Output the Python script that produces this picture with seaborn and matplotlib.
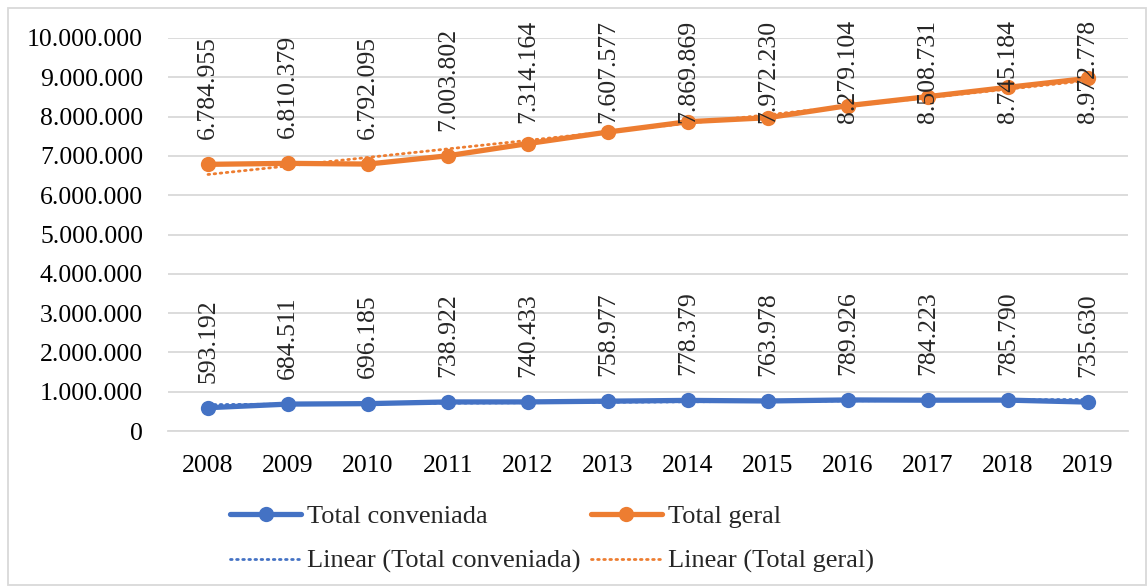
import numpy as np
import pandas as pd
import matplotlib
matplotlib.use("Agg")
import matplotlib.pyplot as plt
import seaborn as sns
from matplotlib.lines import Line2D
from matplotlib.patches import Rectangle

# data
years = [2008, 2009, 2010, 2011, 2012, 2013, 2014, 2015, 2016, 2017, 2018, 2019]
total_conveniada = [593192, 684511, 696185, 738922, 740433, 758977,
                    778379, 763978, 789926, 784223, 785790, 735630]
total_geral = [6784955, 6810379, 6792095, 7003802, 7314164, 7607577,
               7869869, 7972230, 8279104, 8508731, 8745184, 8972778]

blue = "#4472C4"
orange = "#ED7D31"
grid_col = "#D9D9D9"

sns.set_theme(style="white")
plt.rcParams['font.family'] = ['Liberation Serif', 'DejaVu Serif']
plt.rcParams['font.size'] = 18.5

df = pd.DataFrame({"ano": years, "conv": total_conveniada, "geral": total_geral})

fig = plt.figure(figsize=(11.48, 5.87), dpi=100)
ax = fig.add_axes([168 / 1148, 1 - 431 / 587, 960 / 1148, 393 / 587])

# trend lines first (under the series)
dots = (0, (0.6, 1.6))
for col, c in [("conv", blue), ("geral", orange)]:
    sns.regplot(data=df, x="ano", y=col, ax=ax, scatter=False, ci=None,
                color=c, line_kws=dict(linestyle=dots, lw=2.0,
                                       dash_capstyle="round", zorder=2))

sns.lineplot(data=df, x="ano", y="conv", ax=ax, color=blue, lw=3.8,
             marker="o", markersize=11, markeredgewidth=0, zorder=3)
sns.lineplot(data=df, x="ano", y="geral", ax=ax, color=orange, lw=3.8,
             marker="o", markersize=11, markeredgewidth=0, zorder=3)

ax.set_xlim(2007.5, 2019.5)
ax.set_ylim(0, 10_000_000)
ax.set_yticks(np.arange(0, 10_000_001, 1_000_000))
ax.set_yticklabels(["0"] + [f"{v:,}".replace(",", ".") for v in range(1_000_000, 10_000_001, 1_000_000)])
ax.set_xticks(years)
ax.set_xticklabels([str(y) for y in years])
ax.tick_params(axis="both", length=0, labelsize=18.5, colors="black")
ax.tick_params(axis="y", pad=18)
ax.tick_params(axis="x", pad=17)
ax.set_xlabel("")
ax.set_ylabel("")
ax.yaxis.grid(True, color=grid_col, lw=1.3)
ax.xaxis.grid(False)
for s in ["left", "right", "top"]:
    ax.spines[s].set_visible(False)
ax.spines["bottom"].set_color(grid_col)
ax.spines["bottom"].set_linewidth(1.3)

# value labels, rotated, above points (kept inside the chart area)
off = 640_000
cap = 7_840_000
for x, v in zip(years, total_conveniada):
    ax.text(x, v + off, f"{v:,}".replace(",", "."), rotation=90, ha="center",
            va="bottom", fontsize=18.5, clip_on=False, zorder=4)
for x, v in zip(years, total_geral):
    ax.text(x, min(v + off, cap), f"{v:,}".replace(",", "."), rotation=90, ha="center",
            va="bottom", fontsize=18.5, clip_on=False, zorder=4)

handles = [
    Line2D([], [], color=blue, lw=3.8, marker="o", markersize=11, markeredgewidth=0),
    Line2D([], [], color=blue, lw=2.0, linestyle=dots, dash_capstyle="round"),
    Line2D([], [], color=orange, lw=3.8, marker="o", markersize=11, markeredgewidth=0),
    Line2D([], [], color=orange, lw=2.0, linestyle=dots, dash_capstyle="round"),
]
labels = ["Total conveniada", "Linear (Total conveniada)", "Total geral", "Linear (Total geral)"]
fig.legend(handles, labels, ncol=2, frameon=False, loc="center",
           bbox_to_anchor=(552 / 1148, 1 - 539 / 587), fontsize=19,
           handlelength=2.7, handletextpad=0.23, columnspacing=0.38,
           labelspacing=0.8, borderpad=0)

fig.patches.append(Rectangle((8 / 1148, 2 / 587), 1138 / 1148, 577 / 587,
                             transform=fig.transFigure, fill=False,
                             edgecolor=grid_col, lw=1.3))

fig.savefig("out.png", dpi=100)
